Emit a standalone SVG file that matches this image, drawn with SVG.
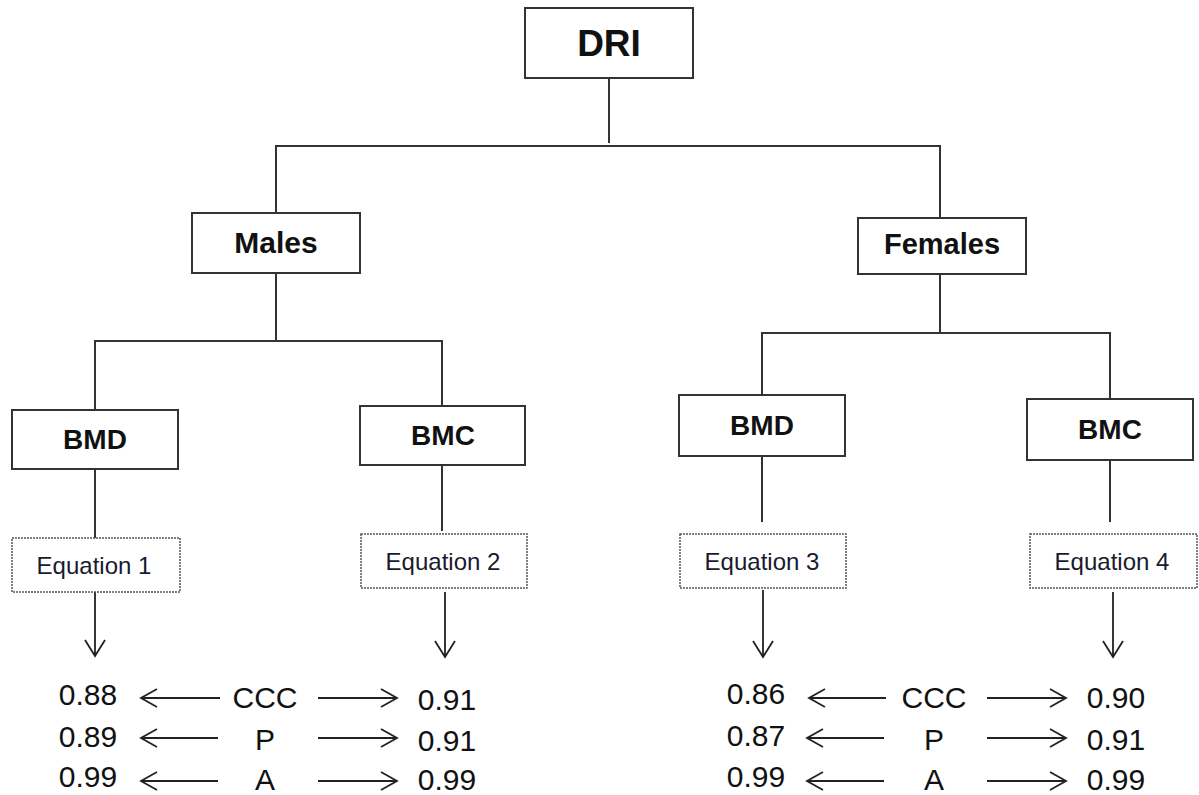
<svg xmlns="http://www.w3.org/2000/svg" width="1199" height="795" viewBox="0 0 1199 795">
<style>
.box{fill:#fff;stroke:#333;stroke-width:2}
.eq{fill:#fff;stroke:#555;stroke-width:1.5;stroke-dasharray:2 1}
.lbl{font-family:"Liberation Sans",Arial,sans-serif;font-weight:bold;fill:#111;text-anchor:middle}
.eqt{font-family:"Liberation Sans",Arial,sans-serif;font-size:24px;fill:#1a1a2e;text-anchor:middle}
.val{font-family:"Liberation Sans",Arial,sans-serif;font-size:30px;fill:#111;text-anchor:middle}
.ln{fill:none;stroke:#333;stroke-width:2}
.ar{fill:none;stroke:#222;stroke-width:1.8}
</style>
<rect width="1199" height="795" fill="#fff"/>
<g id="connectors">
<path class="ln" d="M609 78V143M276 213V146H940V218"/>
<path class="ln" d="M276 273V341M95 410V341H442V406M442 465V531M95 469V538"/>
<path class="ln" d="M940 274V333M762 395V333H1110V399M762 456V522M1110 460V522"/>
<path class="ar" d="M95 592V656M85 640L95 656L105 640"/>
<path class="ar" d="M445 592V657M435 641L445 657L455 641"/>
<path class="ar" d="M763 590V657M753 641L763 657L773 641"/>
<path class="ar" d="M1113 592V657M1103 641L1113 657L1123 641"/>
<path class="ar" d="M220 698H141M157 689L141 698L157 707M318 698H397M381 689L397 698L381 707"/>
<path class="ar" d="M218 738H141M157 729L141 738L157 747M318 738H397M381 729L397 738L381 747"/>
<path class="ar" d="M218 781H141M157 772L141 781L157 790M318 781H397M381 772L397 781L381 790"/>
<path class="ar" d="M886 698H809M825 689L809 698L825 707M987 698H1066M1050 689L1066 698L1050 707"/>
<path class="ar" d="M884 738H807M823 729L807 738L823 747M987 738H1066M1050 729L1066 738L1050 747"/>
<path class="ar" d="M884 781H807M823 772L807 781L823 790M987 781H1066M1050 772L1066 781L1050 790"/>
</g>
<g id="dri"><rect class="box" x="525" y="8" width="168" height="70"/><text class="lbl" x="609" y="56" font-size="37">DRI</text></g>
<g id="males"><rect class="box" x="192" y="213" width="168" height="60"/><text class="lbl" x="276" y="253" font-size="30">Males</text></g>
<g id="females"><rect class="box" x="858" y="218" width="168" height="56"/><text class="lbl" x="942" y="254" font-size="29">Females</text></g>
<g id="m-bmd"><rect class="box" x="12" y="410" width="166" height="59"/><text class="lbl" x="95" y="449" font-size="28">BMD</text></g>
<g id="m-bmc"><rect class="box" x="360" y="406" width="165" height="59"/><text class="lbl" x="443" y="445" font-size="28">BMC</text></g>
<g id="f-bmd"><rect class="box" x="679" y="395" width="166" height="61"/><text class="lbl" x="762" y="435" font-size="28">BMD</text></g>
<g id="f-bmc"><rect class="box" x="1027" y="399" width="166" height="61"/><text class="lbl" x="1110" y="439" font-size="28">BMC</text></g>
<g id="eq1"><rect class="eq" x="12" y="538" width="168" height="54"/><text class="eqt" x="94" y="574">Equation 1</text></g>
<g id="eq2"><rect class="eq" x="361" y="534" width="166" height="54"/><text class="eqt" x="443" y="570">Equation 2</text></g>
<g id="eq3"><rect class="eq" x="680" y="534" width="166" height="54"/><text class="eqt" x="762" y="570">Equation 3</text></g>
<g id="eq4"><rect class="eq" x="1030" y="534" width="167" height="54"/><text class="eqt" x="1112" y="570">Equation 4</text></g>
<g id="m-results">
<text class="val" x="88" y="705">0.88</text><text class="val" x="265" y="708">CCC</text><text class="val" x="447" y="710">0.91</text>
<text class="val" x="88" y="747">0.89</text><text class="val" x="265" y="750">P</text><text class="val" x="447" y="751">0.91</text>
<text class="val" x="88" y="787">0.99</text><text class="val" x="265" y="790">A</text><text class="val" x="447" y="790">0.99</text>
</g>
<g id="f-results">
<text class="val" x="756" y="704">0.86</text><text class="val" x="934" y="708">CCC</text><text class="val" x="1116" y="708">0.90</text>
<text class="val" x="756" y="746">0.87</text><text class="val" x="934" y="750">P</text><text class="val" x="1116" y="750">0.91</text>
<text class="val" x="756" y="787">0.99</text><text class="val" x="934" y="790">A</text><text class="val" x="1116" y="790">0.99</text>
</g>
</svg>
